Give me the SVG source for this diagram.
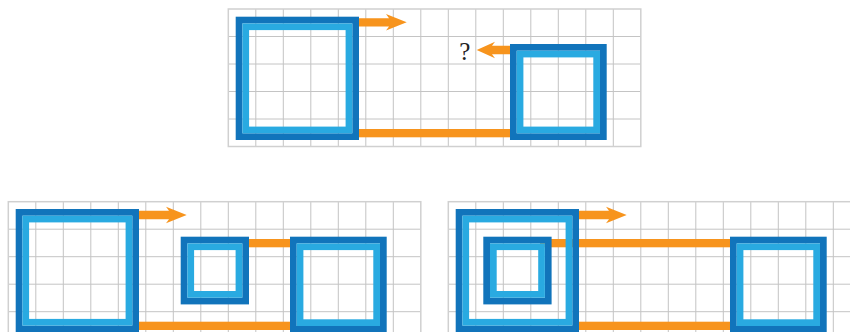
<svg xmlns="http://www.w3.org/2000/svg" xmlns:xlink="http://www.w3.org/1999/xlink" width="850" height="332" viewBox="0 0 850 332">
<style>
.gl{fill:none;stroke:#c4c4c4;stroke-width:1}
.gb{fill:none;stroke:#d0d0d0;stroke-width:1.5}
.d{fill:none;stroke:#1174bb;stroke-width:6.7}
.l{fill:none;stroke:#29aae1;stroke-width:6.7}
.o{fill:#f7941d;stroke:none}
.q{font-family:"Liberation Serif",serif;font-size:25px;fill:#222}
</style>
<defs>
<g id="grid">
<path class="gl" d="M27.5 0V137.5M55 0V137.5M82.5 0V137.5M110 0V137.5M137.5 0V137.5M165 0V137.5M192.5 0V137.5M220 0V137.5M247.5 0V137.5M275 0V137.5M302.5 0V137.5M330 0V137.5M357.5 0V137.5M385 0V137.5M0 27.5H412.5M0 55H412.5M0 82.5H412.5M0 110H412.5"/>
<rect class="gb" x="0" y="0" width="412.5" height="137.5"/>
</g>
<path id="arrowR" class="o" d="M0 -4.15H30L27 -8.3L47.7 0L27 8.3L30 4.15H0Z"/>
</defs>
<g id="grids">
<use xlink:href="#grid" x="228.3" y="9"/>
<use xlink:href="#grid" x="8.3" y="201.7"/>
<use xlink:href="#grid" x="448.3" y="201.7"/>
</g>
<g id="connectors">
<use xlink:href="#arrowR" transform="translate(359 22.3)"/>
<path class="o" d="M510 45.85H492L495 41.7L476.7 50L495 58.3L492 54.15H510Z"/>
<rect class="o" x="355" y="129" width="160" height="8.3"/>
<use xlink:href="#arrowR" transform="translate(139 215)"/>
<rect class="o" x="245" y="239" width="50" height="8.3"/>
<rect class="o" x="135" y="321.7" width="160" height="8.3"/>
<use xlink:href="#arrowR" transform="translate(579 215)"/>
<rect class="o" x="540" y="239" width="195" height="8.3"/>
<rect class="o" x="575" y="321.7" width="160" height="8.3"/>
</g>
<g id="top-big">
<rect class="d" x="239.05" y="20.05" width="116.6" height="116.6"/>
<rect class="l" x="245.75" y="26.75" width="103.2" height="103.2"/>
</g>
<g id="top-right">
<rect class="d" x="513.35" y="47.35" width="90" height="89.3"/>
<rect class="l" x="520.05" y="54.05" width="76.6" height="75.9"/>
</g>
<text id="question" class="q" x="464.7" y="60" text-anchor="middle">?</text>
<g id="bl-big">
<rect class="d" x="19.05" y="212.35" width="116.6" height="116.6"/>
<rect class="l" x="25.75" y="219.05" width="103.2" height="103.2"/>
</g>
<g id="bl-small">
<rect class="d" x="184.05" y="240.05" width="61.6" height="61"/>
<rect class="l" x="190.75" y="246.75" width="48.2" height="47.6"/>
</g>
<g id="bl-right">
<rect class="d" x="293.35" y="240.05" width="90" height="89.3"/>
<rect class="l" x="300.05" y="246.75" width="76.6" height="75.9"/>
</g>
<g id="br-big">
<rect class="d" x="459.05" y="212.35" width="116.6" height="116.6"/>
<rect class="l" x="465.75" y="219.05" width="103.2" height="103.2"/>
</g>
<g id="br-small">
<rect class="d" x="486.65" y="240.05" width="61.6" height="61"/>
<rect class="l" x="493.35" y="246.75" width="48.2" height="47.6"/>
</g>
<g id="br-right">
<rect class="d" x="733.35" y="240.05" width="90" height="89.3"/>
<rect class="l" x="740.05" y="246.75" width="76.6" height="75.9"/>
</g>
</svg>
